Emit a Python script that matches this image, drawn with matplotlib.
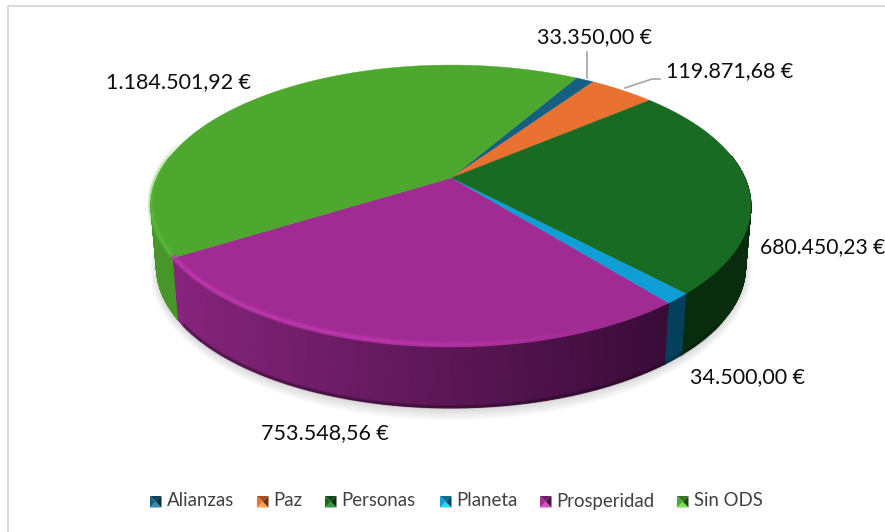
import numpy as np
import matplotlib
matplotlib.use('Agg')
import matplotlib.pyplot as plt
from matplotlib.colors import LinearSegmentedColormap, to_rgb
from matplotlib.patches import Polygon, Rectangle

# values in euros
categories = ['Alianzas', 'Paz', 'Personas', 'Planeta', 'Prosperidad', 'Sin ODS']
values = [33350.00, 119871.68, 680450.23, 34500.00, 753548.56, 1184501.92]
value_labels = ['33.350,00 €', '119.871,68 €', '680.450,23 €', '34.500,00 €',
                '753.548,56 €', '1.184.501,92 €']

colors = ['#156082', '#e97132', '#196b24', '#0f9ed5', '#a02b93', '#4ea72e']
side_left = ['#0d4058', '#a04f22', '#0c3512', '#0a4f70', '#86247c', '#46962a']
side_right = ['#0a3347', '#7a3a18', '#0a2c0e', '#04405c', '#3a0c38', '#3c8424']
rim_colors = ['#2a86ad', '#f59a62', '#2f9a3c', '#35b8e8', '#c63cb6', '#5cc038']

W, H = 885, 532
CX, CY = 451, 178
BX, AY, K = 294, 135.4, 0.1986
DEPTH, SHRINK = 61, 0.982
START = 30


def top_xy(theta):
    # theta in degrees, clockwise from the back of the pie
    t = np.radians(theta)
    u, v = np.sin(t), np.cos(t)
    w = 1 + K * v
    return CX + BX * u / w, CY - AY * v / w


def bottom_xy(theta):
    x, y = top_xy(theta)
    return CX + (x - CX) * SHRINK, y + DEPTH


plt.rcParams['font.family'] = ['Lato', 'DejaVu Sans']
fig = plt.figure(figsize=(W / 100, H / 100), dpi=100)
ax = fig.add_axes([0, 0, 1, 1])
ax.set_xlim(0, W)
ax.set_ylim(H, 0)
ax.axis('off')

# chart frame, only top and left are inside the picture
ax.add_patch(Rectangle((8, 6), W + 20, H + 20, fill=False, ec='#d9d9d9', lw=1.5))

# soft shadow below the pie
all_t = np.linspace(0, 360, 361)
bx, by = bottom_xy(all_t)
mid_y = by.mean()
for g in np.linspace(1, 0, 12):
    ax.add_patch(Polygon(np.c_[CX + (bx - CX) * (1 + 0.022 * g),
                               mid_y + 2 + (by - mid_y) * (1 + 0.07 * g)],
                         fc='#000000', alpha=0.012, ec='none', zorder=1))

# slice angles from the values
shares = np.array(values) / sum(values) * 360
edges = START + np.r_[0, np.cumsum(shares)]

# side wall, only the part turned towards the viewer
for i in range(len(values)):
    ts = np.arange(edges[i], edges[i + 1] + 0.5, 0.5)
    ts = ts[(ts % 360 > 80) & (ts % 360 < 280)]
    if len(ts) < 2:
        continue
    xt, yt = top_xy(ts)
    xb, yb = bottom_xy(ts)
    X = np.vstack([xt, xb])
    Y = np.vstack([yt, yb])
    C = np.clip((X - 175) / 490, 0, 1)
    cmap = LinearSegmentedColormap.from_list('side', [side_left[i], side_right[i]])
    ax.pcolormesh(X, Y, C, cmap=cmap, vmin=0, vmax=1, shading='gouraud', zorder=2)
    # darker soft edge at the foot of the wall, front part only
    keep = (ts % 360 > 125) & (ts % 360 < 235)
    if keep.sum() > 1:
        dark = np.array(to_rgb(side_right[i])) * 0.6
        for lw, al in [(3, 0.2), (1.5, 0.35)]:
            ax.plot(xb[keep], yb[keep] - 1, color=dark, lw=lw, alpha=al, zorder=2.5)

# top faces
for i in range(len(values)):
    ts = np.linspace(edges[i], edges[i + 1], 120)
    x, y = top_xy(ts)
    ax.add_patch(Polygon(np.c_[np.r_[CX, x], np.r_[CY, y]], fc=colors[i], ec=colors[i],
                         lw=0.3, zorder=3))

# bevel highlight along the front rim
for i in range(len(values)):
    ts = np.arange(edges[i], edges[i + 1] + 1, 1.0)
    ts = ts[(ts % 360 > 95) & (ts % 360 < 285)]
    for a, b in zip(ts[:-1], ts[1:]):
        xa, ya = top_xy(a)
        xb, yb = top_xy(b)
        fade = np.clip((620 - xa) / 240, 0, 1) * np.clip((285 - a % 360) / 25, 0, 1)
        for lw, al in [(5, 0.2), (3.2, 0.3), (1.6, 0.45)]:
            ax.plot([xa, xb], [ya - 2.5, yb - 2.5], color=rim_colors[i], lw=lw, alpha=al * fade,
                    solid_capstyle='butt', zorder=4)

# leader lines
ax.plot([587, 587], [52, 78], color='#a6a6a6', lw=1.2, zorder=5)
ax.plot([625, 652, 660], [88, 79, 79], color='#a6a6a6', lw=1.2, zorder=5)

# data labels, centres
label_pos = [(595, 37), (730, 71), (823, 247), (747, 377), (325, 433), (179, 82)]
label_size = [15.5, 15.5, 15.2, 15.5, 15.5, 15.5]
for lab, (x, y), fs in zip(value_labels, label_pos, label_size):
    ax.text(x, y, lab, fontsize=fs, ha='center', va='center', color='#0d0d0d', zorder=6)

# legend
leg_x = [150, 257, 325, 440, 540, 677]
for name, c, x in zip(categories, colors, leg_x):
    s = 11.5
    y0, y1 = 496, 496 + s
    x0, x1 = x, x + s
    m = (x + s / 2, y0 + s / 2)
    dark = np.array(to_rgb(c)) * 0.45
    light = np.minimum(np.array(to_rgb(c)) * 1.25 + 0.08, 1)
    ax.add_patch(Polygon([(x0, y0), (x1, y0), m], fc=np.array(to_rgb(c)) * 0.7, ec='none', zorder=6))
    ax.add_patch(Polygon([(x0, y1), (x1, y1), m], fc=light, ec='none', zorder=6))
    ax.add_patch(Polygon([(x0, y0), (x0, y1), m], fc=c, ec='none', zorder=6))
    ax.add_patch(Polygon([(x1, y0), (x1, y1), m], fc=dark, ec='none', zorder=6))
    ax.text(x1 + 5, 501, name, fontsize=13.4, ha='left', va='center', color='#404040', zorder=6)

fig.savefig('out.png', dpi=100)
